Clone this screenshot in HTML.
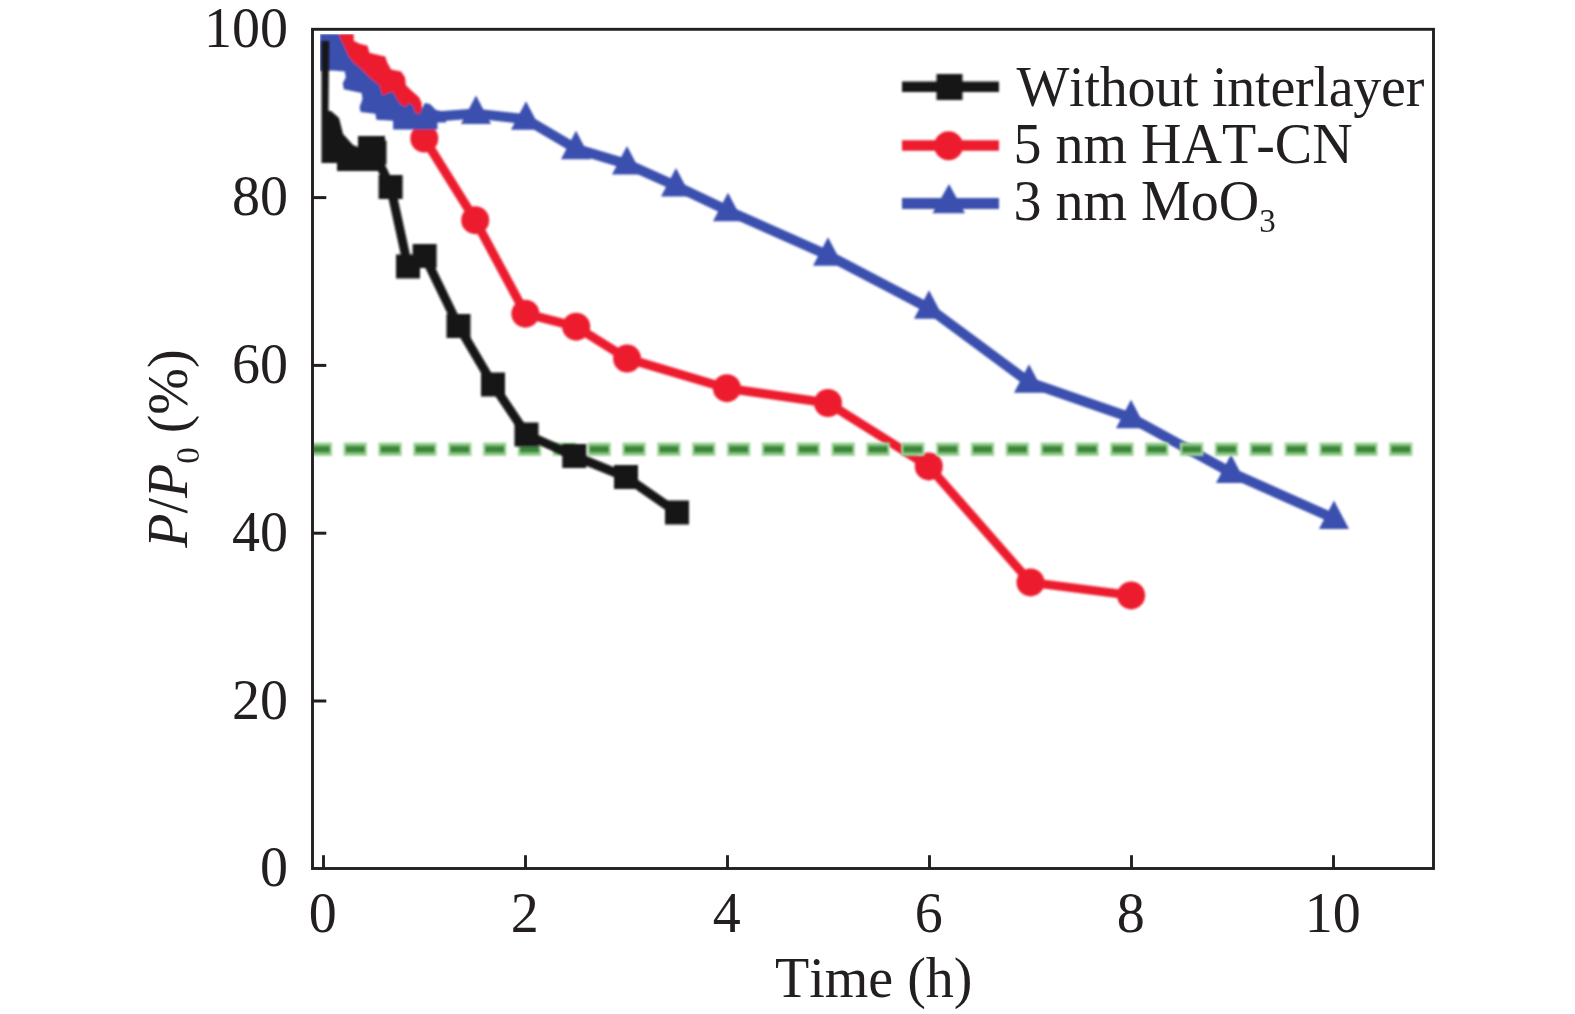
<!DOCTYPE html>
<html><head><meta charset="utf-8"><title>P/P0 vs Time</title>
<style>
html,body{margin:0;padding:0;background:#fff;width:1575px;height:1014px;overflow:hidden}
svg{display:block;will-change:transform}
text{font-family:"Liberation Serif",serif;font-size:56px;fill:#231f20;font-kerning:none}
</style></head><body>
<svg width="1575" height="1014" viewBox="0 0 1575 1014">
<defs>
<clipPath id="c"><rect x="320" y="34" width="1110" height="830"/></clipPath>
<clipPath id="g"><rect x="314" y="400" width="1116" height="100"/></clipPath>
<filter id="b" filterUnits="userSpaceOnUse" x="0" y="0" width="1575" height="1014"><feGaussianBlur stdDeviation="1.3"/></filter>
</defs>
<g clip-path="url(#c)"><g filter="url(#b)">
<polygon points="339.9,33.9 353.7,33.9 353.7,40.8 359.6,43.8 367.5,45.8 369.4,52.7 377.3,54.7 385.2,56.6 387.2,62.5 391.1,69.4 401.0,71.4 405.0,77.3 405.9,85.2 411.9,91.1 418.8,97.1 421.7,103.0 421.7,108.9 418.8,112.8 400.0,118.0 330.0,50.0" fill="#ec1c2e"/>
<polyline points="418.0,108.0 424.3,138.5 475.2,220.2 525.4,313.7 576.2,326.7 627.1,358.6 726.9,388.2 828.0,403.0 928.8,466.4 1030.5,582.4 1131.1,595.4" fill="none" stroke="#ec1c2e" stroke-width="9" stroke-linejoin="round"/>
<circle cx="424.3" cy="138.5" r="14" fill="#ec1c2e"/>
<circle cx="475.2" cy="220.2" r="14" fill="#ec1c2e"/>
<circle cx="525.4" cy="313.7" r="14" fill="#ec1c2e"/>
<circle cx="576.2" cy="326.7" r="14" fill="#ec1c2e"/>
<circle cx="627.1" cy="358.6" r="14" fill="#ec1c2e"/>
<circle cx="726.9" cy="388.2" r="14" fill="#ec1c2e"/>
<circle cx="828.0" cy="403.0" r="14" fill="#ec1c2e"/>
<circle cx="928.8" cy="466.4" r="14" fill="#ec1c2e"/>
<circle cx="1030.5" cy="582.4" r="14" fill="#ec1c2e"/>
<circle cx="1131.1" cy="595.4" r="14" fill="#ec1c2e"/>
<polygon points="320.0,34.0 339.4,33.9 339.6,37.0 342.5,42.6 348.8,56.5 353.9,62.8 360.2,67.9 366.5,74.2 370.0,77.7 373.8,80.8 379.5,85.3 382.6,95.4 388.9,92.8 392.7,91.6 396.5,97.9 400.3,104.2 405.4,106.7 409.1,102.9 412.9,105.5 415.5,113.0 419.2,114.3 422.4,108.0 424.7,103.0 430.0,104.0 436.0,110.0 446.0,112.0 446.0,122.5 437.5,122.5 437.5,129.6 393.1,129.6 393.1,120.7 376.4,119.7 375.4,113.8 360.6,111.9 359.6,106.9 362.5,99.0 361.6,93.1 343.8,89.2 342.8,83.3 345.8,77.3 344.8,71.4 333.0,70.4 320.0,71.0" fill="#3a4fae"/>
<polyline points="430.0,117.0 476.0,113.6 526.0,119.3 576.0,148.8 627.0,164.1 676.0,186.0 728.0,210.8 828.0,255.2 929.0,308.2 1029.0,382.2 1131.0,417.8 1231.0,472.6 1334.0,518.5" fill="none" stroke="#3a4fae" stroke-width="10" stroke-linejoin="round"/>
<polygon points="476.0,95.6 491.0,124.1 461.0,124.1" fill="#3a4fae"/>
<polygon points="526.0,101.3 541.0,129.8 511.0,129.8" fill="#3a4fae"/>
<polygon points="576.0,130.8 591.0,159.3 561.0,159.3" fill="#3a4fae"/>
<polygon points="627.0,146.1 642.0,174.6 612.0,174.6" fill="#3a4fae"/>
<polygon points="676.0,168.0 691.0,196.5 661.0,196.5" fill="#3a4fae"/>
<polygon points="728.0,192.8 743.0,221.3 713.0,221.3" fill="#3a4fae"/>
<polygon points="828.0,237.2 843.0,265.7 813.0,265.7" fill="#3a4fae"/>
<polygon points="929.0,290.2 944.0,318.7 914.0,318.7" fill="#3a4fae"/>
<polygon points="1029.0,364.2 1044.0,392.7 1014.0,392.7" fill="#3a4fae"/>
<polygon points="1131.0,399.8 1146.0,428.3 1116.0,428.3" fill="#3a4fae"/>
<polygon points="1231.0,454.6 1246.0,483.1 1216.0,483.1" fill="#3a4fae"/>
<polygon points="1334.0,500.5 1349.0,529.0 1319.0,529.0" fill="#3a4fae"/>
</g></g>
<g clip-path="url(#g)"><g filter="url(#b)">
<line x1="308.65" y1="449.3" x2="1416.5" y2="449.3" stroke="#a6d8a0" stroke-width="13.5" stroke-dasharray="23.5 11.35"/>
<line x1="310.75" y1="449.3" x2="1416.5" y2="449.3" stroke="#80c07b" stroke-width="10.5" stroke-dasharray="19.3 15.55"/>
<line x1="310.75" y1="449.3" x2="1416.5" y2="449.3" stroke="#3a8538" stroke-width="6" stroke-dasharray="19.3 15.55"/>
</g></g>
<g clip-path="url(#c)"><g filter="url(#b)">
<polygon points="321.5,41.0 329.0,41.0 328.5,111.0 331.0,111.0 339.0,118.0 343.0,134.0 353.0,145.0 358.0,147.0 358.0,136.0 385.0,136.0 385.0,167.0 380.0,171.0 337.0,171.0 337.0,163.0 321.5,163.0" fill="#121212"/>
<polyline points="374.0,152.0 390.6,187.0 408.0,266.5 424.6,256.0 458.5,326.0 493.0,384.5 526.5,434.5 574.3,456.0 626.0,477.0 677.0,512.5" fill="none" stroke="#121212" stroke-width="9" stroke-linejoin="round"/>
<rect x="362.5" y="140.5" width="24" height="24" fill="#121212"/>
<rect x="378.6" y="175.0" width="24" height="24" fill="#121212"/>
<rect x="396.0" y="254.5" width="24" height="24" fill="#121212"/>
<rect x="412.6" y="244.0" width="24" height="24" fill="#121212"/>
<rect x="446.5" y="314.0" width="24" height="24" fill="#121212"/>
<rect x="481.0" y="372.5" width="24" height="24" fill="#121212"/>
<rect x="514.5" y="422.5" width="24" height="24" fill="#121212"/>
<rect x="562.3" y="444.0" width="24" height="24" fill="#121212"/>
<rect x="614.0" y="465.0" width="24" height="24" fill="#121212"/>
<rect x="665.0" y="500.5" width="24" height="24" fill="#121212"/>
</g></g>
<g filter="url(#b)">
<line x1="902" y1="86.8" x2="999" y2="86.8" stroke="#121212" stroke-width="10.5"/>
<rect x="936.5" y="74" width="26" height="26" fill="#121212"/>
<line x1="902" y1="145.6" x2="999" y2="145.6" stroke="#ec1c2e" stroke-width="10.5"/>
<circle cx="948.6" cy="145.8" r="14.5" fill="#ec1c2e"/>
<line x1="902" y1="203.5" x2="999" y2="203.5" stroke="#3a4fae" stroke-width="11"/>
<polygon points="949.0,184.0 965.0,213.3 932.5,213.3" fill="#3a4fae"/>
</g>
<rect x="312.5" y="29.3" width="1121" height="839.2" fill="none" stroke="#231f20" stroke-width="2.9"/>
<line x1="313" y1="701.0" x2="326.3" y2="701.0" stroke="#231f20" stroke-width="3"/>
<line x1="313" y1="533.2" x2="326.3" y2="533.2" stroke="#231f20" stroke-width="3"/>
<line x1="313" y1="365.4" x2="326.3" y2="365.4" stroke="#231f20" stroke-width="3"/>
<line x1="313" y1="197.6" x2="326.3" y2="197.6" stroke="#231f20" stroke-width="3"/>
<line x1="323.5" y1="855.2" x2="323.5" y2="868" stroke="#231f20" stroke-width="2.9"/>
<line x1="525.5" y1="855.2" x2="525.5" y2="868" stroke="#231f20" stroke-width="2.9"/>
<line x1="727.5" y1="855.2" x2="727.5" y2="868" stroke="#231f20" stroke-width="2.9"/>
<line x1="929.5" y1="855.2" x2="929.5" y2="868" stroke="#231f20" stroke-width="2.9"/>
<line x1="1131.5" y1="855.2" x2="1131.5" y2="868" stroke="#231f20" stroke-width="2.9"/>
<line x1="1333.5" y1="855.2" x2="1333.5" y2="868" stroke="#231f20" stroke-width="2.9"/>
<text x="288" y="886.4" text-anchor="end">0</text>
<text x="288" y="718.6" text-anchor="end">20</text>
<text x="288" y="550.8" text-anchor="end">40</text>
<text x="288" y="383.0" text-anchor="end">60</text>
<text x="288" y="215.2" text-anchor="end">80</text>
<text x="288" y="47.4" text-anchor="end">100</text>
<text x="322.7" y="932" text-anchor="middle">0</text>
<text x="524.7" y="932" text-anchor="middle">2</text>
<text x="726.7" y="932" text-anchor="middle">4</text>
<text x="928.7" y="932" text-anchor="middle">6</text>
<text x="1130.7" y="932" text-anchor="middle">8</text>
<text x="1332.7" y="932" text-anchor="middle">10</text>
<text x="775" y="997">Time (h)</text>
<text transform="translate(187,547.8) rotate(-90)"><tspan font-style="italic">P</tspan>/<tspan font-style="italic">P</tspan><tspan font-size="33" dy="12">0</tspan><tspan dy="-12"> (%)</tspan></text>
<text x="1016.5" y="106.4" letter-spacing="-0.25">Without interlayer</text>
<text x="1013.5" y="163.1">5 nm HAT-CN</text>
<text x="1013.5" y="219.7">3 nm MoO<tspan font-size="33" dy="12">3</tspan></text>
</svg>
</body></html>
